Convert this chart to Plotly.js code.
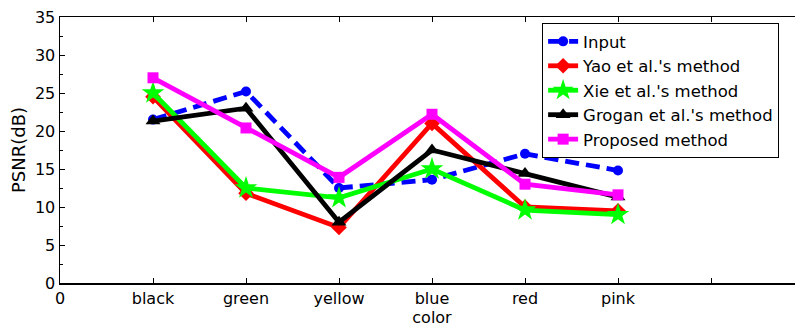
<!DOCTYPE html>
<html>
<head>
<meta charset="utf-8">
<script src="https://cdn.plot.ly/plotly-3.0.1.min.js"></script>
<style>
html,body{margin:0;padding:0;overflow:hidden;background:#fff;}
#chart{width:810px;height:327px;}
</style>
</head>
<body>
<div id="chart"></div>
<script>
var categories = ['black', 'green', 'yellow', 'blue', 'red', 'pink'];
var xPositions = [1, 2, 3, 4, 5, 6];
var inputVals    = [21.5, 25.2, 12.5, 13.6, 17.0, 14.8];
var yaoVals      = [24.5, 11.8, 7.3, 21.0, 10.0, 9.5];
var xieVals      = [25.0, 12.5, 11.2, 15.0, 9.6, 9.0];
var groganVals   = [21.3, 23.0, 8.0, 17.5, 14.4, 11.3];
var proposedVals = [27.0, 20.4, 13.9, 22.2, 13.0, 11.6];
var seriesNames = ['Input', "Yao et al.'s method", "Xie et al.'s method", "Grogan et al.'s method", 'Proposed method'];
var xTickVals = [0, 1, 2, 3, 4, 5, 6, 7, 8];
var xTickText = ['0'].concat(categories).concat(['', '']);
var yTickVals = [0, 5, 10, 15, 20, 25, 30, 35];

function tr(name, y, color, symbol, msize, dash) {
  return {
    x: xPositions, y: y, name: name, type: 'scatter', mode: 'lines+markers',
    line: {color: color, width: 4.8, dash: dash || 'solid'},
    marker: {color: color, symbol: symbol, size: msize, line: {width: 0}}
  };
}

var data = [
  tr(seriesNames[0], inputVals, '#0000ff', 'circle', 10, '14px,7px'),
  tr(seriesNames[1], yaoVals, '#ff0000', 'diamond', 12),
  tr(seriesNames[2], xieVals, '#00ff00', 'star', 17),
  tr(seriesNames[3], groganVals, '#000000', 'triangle-up', 13),
  tr(seriesNames[4], proposedVals, '#ff00ff', 'square', 11)
];

var fam = 'DejaVu Sans, sans-serif';
var font = {family: fam, size: 16, color: '#000'};

var layout = {
  width: 810, height: 327,
  margin: {l: 60, r: 6, t: 17, b: 44},
  paper_bgcolor: '#fff', plot_bgcolor: '#fff',
  font: font,
  showlegend: true,
  legend: {
    x: 0.648, y: 0.977, xanchor: 'left', yanchor: 'top',
    bgcolor: '#fff', bordercolor: '#000', borderwidth: 1,
    font: {family: fam, size: 16.5, color: '#000'},
    itemwidth: 30, tracegroupgap: 0
  },
  xaxis: {
    range: [0, 8], tickmode: 'array', tickvals: xTickVals, ticktext: xTickText,
    ticks: 'inside', ticklen: 5, tickcolor: '#000', tickwidth: 1,
    showline: true, linecolor: '#000', linewidth: 1.5, mirror: 'ticks',
    showgrid: false, zeroline: false,
    tickfont: font,
    title: {text: 'color', font: font, standoff: 0}
  },
  yaxis: {
    range: [0, 35], tickmode: 'array', tickvals: yTickVals,
    ticks: 'inside', ticklen: 5, tickcolor: '#000', tickwidth: 1,
    minor: {dtick: 2.5, tick0: 0, ticks: 'inside', ticklen: 3, tickcolor: '#000', showgrid: false},
    showline: true, linecolor: '#000', linewidth: 1.5, mirror: 'ticks',
    showgrid: false, zeroline: false,
    tickfont: font,
    title: {text: 'PSNR(dB)', font: {family: fam, size: 18, color: '#000'}, standoff: 4}
  }
};

Plotly.newPlot('chart', data, layout, {displayModeBar: false, staticPlot: true});
</script>
</body>
</html>
